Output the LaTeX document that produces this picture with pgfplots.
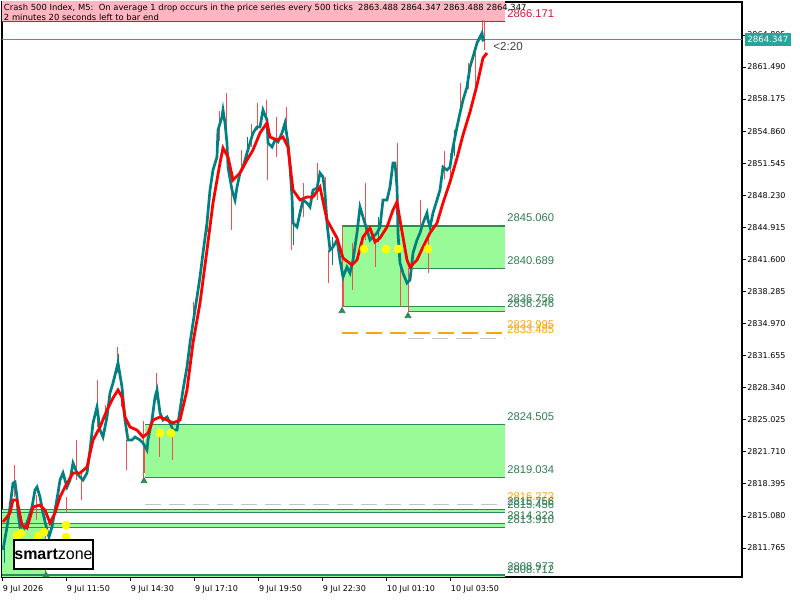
\documentclass[border=0pt]{standalone}
\usepackage{pgfplots}
\pgfplotsset{compat=1.18}
\usepackage{pgfplotstable}
\usepackage{fontspec}
\setmainfont{DejaVu Sans}
\newfontfamily\lib{Liberation Sans}
\definecolor{barteal}{RGB}{0,128,128}
\definecolor{wickred}{RGB}{240,80,80}
\definecolor{mared}{RGB}{255,0,0}
\definecolor{zonefill}{RGB}{152,251,152}
\definecolor{zoneline}{RGB}{46,139,87}
\definecolor{zonetext}{RGB}{46,125,80}
\definecolor{orng}{RGB}{255,165,0}
\definecolor{dotyel}{RGB}{255,255,0}
\definecolor{hdrpink}{RGB}{255,182,193}
\definecolor{crimsonc}{RGB}{220,20,60}
\definecolor{pricet}{RGB}{38,166,154}
\definecolor{graydash}{RGB}{195,195,195}
\newcommand\tf{\fontsize{4}{4.8}\selectfont}
\newcommand\zf{\lib\fontsize{5.6}{6}\selectfont}

\pgfplotstableread{
x p
0.5 2811.56
2.5 2813.94
4 2816.00
5.5 2818.48
6.5 2818.59
7.5 2817.04
8 2815.38
9 2813.94
10 2813.31
11.5 2813.94
13 2814.66
15 2816.00
16.5 2817.76
17.5 2818.07
19 2817.04
20.5 2815.38
22.5 2813.63
23.5 2812.90
25 2813.94
26.5 2815.69
28 2817.45
29 2818.79
30.5 2819.52
32.5 2818.07
34 2818.79
35.5 2820.55
37.5 2819.52
39 2819.10
40.5 2818.79
42.5 2819.52
44 2821.90
45.5 2824.69
47.5 2826.34
49 2823.96
50.5 2823.24
52.5 2825.31
54 2827.79
55.5 2828.82
57.5 2830.48
58 2830.89
60 2828.41
61.5 2825.00
63 2822.93
65 2822.93
66.5 2823.24
69 2822.93
70.5 2822.62
72.5 2821.90
73 2822.93
75 2825.00
76.5 2827.37
77.5 2828.10
79 2825.72
80.5 2825.00
82.5 2825.31
84 2824.69
85.5 2823.96
87.5 2823.96
89 2826.03
90.5 2828.10
92.5 2830.48
94 2832.96
95.5 2835.02
97.5 2837.71
99 2839.78
100.5 2842.26
102.5 2845.36
104 2848.77
105.5 2850.84
107.5 2852.19
108 2854.98
110 2856.32
110.5 2857.04
111.5 2855.70
112.5 2853.63
113 2851.15
115 2848.77
116.5 2847.74
117.5 2849.08
119 2850.53
120.5 2851.15
122.5 2852.60
124 2853.63
125.5 2854.67
127.5 2855.29
129 2855.29
130.5 2857.04
132.5 2856.01
133 2853.63
135 2853.22
136.5 2853.94
138 2853.74
140 2854.67
141.5 2855.70
143 2853.63
144 2851.15
145 2848.05
145.5 2845.36
147.5 2844.95
149 2846.40
150.5 2847.74
152.5 2847.43
154 2847.02
155.5 2848.77
157.5 2848.98
159 2850.53
160.5 2850.12
161.5 2848.46
162.5 2845.36
164 2842.57
165.5 2842.88
167.5 2843.61
169 2841.54
170.5 2839.78
172.5 2840.81
174 2840.19
175.5 2841.54
177.5 2844.33
179 2847.02
180.5 2845.98
182.5 2844.64
184 2843.61
185.5 2843.92
187.5 2844.33
189 2844.95
190.5 2847.74
192.5 2847.74
194 2849.08
195.5 2851.57
196.5 2851.57
197.5 2849.08
198 2844.33
199 2841.23
200.5 2840.19
202.5 2839.16
204 2839.47
205.5 2842.26
207.5 2843.61
209 2844.33
210.5 2845.36
212.5 2846.40
213 2845.67
214 2844.95
215.5 2846.40
217.5 2847.74
219 2848.77
220.5 2851.15
222.5 2850.84
224 2851.15
225.5 2853.22
227.5 2855.29
229 2856.73
230.5 2858.08
232.5 2859.42
234 2861.49
235.5 2862.52
237.5 2863.97
239 2864.59
240 2865.00
240.5 2864.28
241.5 2864.35
}\pricetab

\pgfplotstableread{
x m
0.5 2814.45
4 2815.38
5.5 2816.73
7.5 2816.73
10 2814.14
12.5 2813.83
15.5 2816.00
19 2816.21
21.5 2815.69
24 2814.35
26.5 2815.38
29 2817.04
31.5 2818.07
35.5 2819.52
39 2819.52
42.5 2820.14
45.5 2822.93
49 2824.27
52.5 2826.03
55.5 2827.27
58 2828.10
60 2827.37
61.5 2825.31
64 2824.27
67.5 2823.96
70.5 2823.24
73 2823.65
75.5 2825.00
79 2825.31
82.5 2825.00
85.5 2824.69
89 2825.00
92.5 2828.10
95.5 2832.96
99 2837.09
102.5 2842.57
105.5 2847.43
109 2851.57
110.5 2853.12
113 2852.19
115.5 2849.81
119 2850.53
122.5 2851.88
125.5 2852.91
129 2854.67
132.5 2855.70
134 2854.25
137.5 2853.94
140.5 2854.25
143 2853.22
145.5 2848.77
149 2847.74
152.5 2848.05
155.5 2848.05
159 2849.08
162.5 2845.67
167.5 2843.81
170.5 2841.74
175 2841.02
177.5 2841.54
180.5 2843.92
184 2844.85
186.5 2843.40
189 2843.81
192.5 2844.95
195.5 2846.71
197.5 2847.53
199 2845.67
202.5 2841.54
204 2840.81
207.5 2841.54
210.5 2842.88
214 2844.33
217.5 2845.36
220.5 2847.43
224 2849.60
227.5 2852.08
230.5 2854.46
234 2856.84
237.5 2859.63
240.5 2862.42
242.5 2862.94
}\matab

\begin{document}
\begin{tikzpicture}
\path[use as bounding box] (0,0) rectangle (400pt,300pt);
\begin{axis}[
  width=370pt, height=287.5pt, scale only axis,
  at={(1pt,11.5pt)}, anchor=south west,
  xmin=0, xmax=370, ymin=2808.77, ymax=2868.21,
  clip mode=individual,
  axis line style={black, line width=0.6pt},
  xtick={0,32,64,96,128,160,192,224},
  xticklabels={9 Jul 2026,9 Jul 11:50,9 Jul 14:30,9 Jul 17:10,9 Jul 19:50,9 Jul 22:30,10 Jul 01:10,10 Jul 03:50},
  ytick={2811.765,2815.080,2818.395,2821.710,2825.025,2828.340,2831.655,2834.970,2838.285,2841.600,2844.915,2848.230,2851.545,2854.860,2858.175,2861.490,2864.805},
  yticklabels={2811.765,2815.080,2818.395,2821.710,2825.025,2828.340,2831.655,2834.970,2838.285,2841.600,2844.915,2848.230,2851.545,2854.860,2858.175,2861.490,2864.805},
  xtick pos=lower, ytick pos=right, yticklabel pos=right,
  tick align=outside, major tick length=2pt,
  tick style={black, line width=0.4pt},
  xticklabel style={font=\tf, anchor=north west, inner sep=0pt, yshift=-1.8pt, xshift=0.3pt},
  yticklabel style={font=\tf, anchor=west, inner sep=0pt, xshift=0.5pt},
  /pgf/number format/assume math mode=true,
]
% header band
\addplot[fill=hdrpink, draw=none] coordinates {(0,2866.171) (251.5,2866.171) (251.5,2869) (0,2869)} -- cycle;
\addplot[crimsonc, line width=0.5pt] coordinates {(0,2866.171) (251.5,2866.171)};

% zone A
\addplot[fill=zonefill, draw=none] coordinates {(170,2840.689) (251.5,2840.689) (251.5,2845.060) (170,2845.060)} -- cycle;
\addplot[fill=zonefill, draw=none] coordinates {(170,2836.756) (203,2836.756) (203,2840.689) (170,2840.689)} -- cycle;
\addplot[fill=zonefill, draw=none] coordinates {(203,2836.246) (251.5,2836.246) (251.5,2836.756) (203,2836.756)} -- cycle;
\addplot[zoneline, line width=0.6pt] coordinates {(170,2845.060) (251.5,2845.060)};
\addplot[zoneline, line width=0.6pt] coordinates {(203,2840.689) (251.5,2840.689)};
\addplot[zoneline, line width=0.6pt] coordinates {(170,2836.756) (251.5,2836.756)};
\addplot[zoneline, line width=0.6pt] coordinates {(203,2836.246) (251.5,2836.246)};
\addplot[orng, line width=0.6pt, dash pattern=on 8pt off 4pt] coordinates {(170,2833.995) (251.5,2833.995)};
\addplot[graydash, line width=0.4pt, dash pattern=on 8pt off 4pt] coordinates {(203,2833.485) (251.5,2833.485)};

% zone B
\addplot[fill=zonefill, draw=none] coordinates {(71.5,2819.034) (251.5,2819.034) (251.5,2824.505) (71.5,2824.505)} -- cycle;
\addplot[zoneline, line width=0.6pt] coordinates {(71.5,2824.505) (251.5,2824.505)};
\addplot[zoneline, line width=0.6pt] coordinates {(71.5,2819.034) (251.5,2819.034)};
\addplot[graydash, line width=0.4pt, dash pattern=on 8pt off 4pt] coordinates {(71.5,2816.273) (251.5,2816.273)};

% zone C
\addplot[fill=zonefill, draw=none] coordinates {(0,2808.712) (22,2808.712) (22,2815.756) (0,2815.756)} -- cycle;
\addplot[fill=zonefill, draw=none] coordinates {(22,2815.456) (251.5,2815.456) (251.5,2815.756) (22,2815.756)} -- cycle;
\addplot[fill=zonefill, draw=none] coordinates {(22,2813.910) (251.5,2813.910) (251.5,2814.323) (22,2814.323)} -- cycle;
\addplot[fill=zonefill, draw=none] coordinates {(22,2808.712) (251.5,2808.712) (251.5,2808.977) (22,2808.977)} -- cycle;
\addplot[zoneline, line width=0.6pt] coordinates {(0,2815.756) (251.5,2815.756)};
\addplot[zoneline, line width=0.6pt] coordinates {(0,2815.456) (251.5,2815.456)};
\addplot[zoneline, line width=0.6pt] coordinates {(0,2814.323) (251.5,2814.323)};
\addplot[zoneline, line width=0.6pt] coordinates {(0,2813.910) (251.5,2813.910)};
\addplot[zoneline, line width=0.6pt] coordinates {(0,2808.977) (251.5,2808.977)};

% current price line
\addplot[pricet, line width=0.5pt] coordinates {(0,2864.347) (370,2864.347)};

% wicks
\addplot[wickred, line width=0.5pt, unbounded coords=jump] coordinates {
(6.5,2820.34) (6.5,2817.04) (6.5,nan)
(17.5,2817.24) (17.5,2814.66) (17.5,nan)
(22,2814.97) (22,2808.80) (22,nan)
(32.5,2817.04) (32.5,2815.38) (32.5,nan)
(37.5,2822.93) (37.5,2818.79) (37.5,nan)
(40,2819.52) (40,2816.73) (40,nan)
(48,2829.13) (48,2824.27) (48,nan)
(52,2826.60) (52,2823.90) (52,nan)
(58,2832.54) (58,2829.86) (58,nan)
(60,2828.82) (60,2826.34) (60,nan)
(62.5,2822.93) (62.5,2819.83) (62.5,nan)
(71,2824.90) (71,2819.00) (71,nan)
(71.5,2822.62) (71.5,2819.52) (71.5,nan)
(77.5,2829.86) (77.5,2827.06) (77.5,nan)
(79,2823.96) (79,2821.17) (79,nan)
(85.5,2823.65) (85.5,2820.86) (85.5,nan)
(96,2837.20) (96,2834.60) (96,nan)
(103,2846.80) (103,2844.40) (103,nan)
(109,2856.90) (109,2853.80) (109,nan)
(112.5,2858.80) (112.5,2855.29) (112.5,nan)
(115,2850.53) (115,2844.64) (115,nan)
(120,2852.91) (120,2850.53) (120,nan)
(125,2855.60) (125,2853.20) (125,nan)
(128,2857.77) (128,2854.98) (128,nan)
(132.5,2858.08) (132.5,2855.70) (132.5,nan)
(133,2853.94) (133,2849.81) (133,nan)
(137.5,2856.32) (137.5,2852.19) (137.5,nan)
(142.5,2857.35) (142.5,2854.25) (142.5,nan)
(145,2848.77) (145,2842.57) (145,nan)
(150.5,2849.50) (150.5,2845.98) (150.5,nan)
(157.5,2851.57) (157.5,2847.74) (157.5,nan)
(161.5,2850.12) (161.5,2846.71) (161.5,nan)
(163,2842.57) (163,2839.16) (163,nan)
(170,2845.06) (170,2836.76) (170,nan)
(170.5,2840.19) (170.5,2836.68) (170.5,nan)
(175,2843.30) (175,2838.44) (175,nan)
(181.5,2849.50) (181.5,2843.61) (181.5,nan)
(186.5,2843.61) (186.5,2840.81) (186.5,nan)
(197.5,2853.63) (197.5,2849.08) (197.5,nan)
(199,2841.54) (199,2836.68) (199,nan)
(203,2840.69) (203,2836.25) (203,nan)
(209,2847.74) (209,2844.33) (209,nan)
(213,2844.33) (213,2840.19) (213,nan)
(221,2852.80) (221,2849.90) (221,nan)
(224,2852.60) (224,2849.81) (224,nan)
(229,2859.84) (229,2857.04) (229,nan)
(233,2861.90) (233,2859.20) (233,nan)
(236.5,2862.94) (236.5,2859.11) (236.5,nan)
(240,2866.35) (240,2864.28) (240,nan)
(241,2866.17) (241,2863.25)
};
\addplot[barteal, line width=0.5pt, unbounded coords=jump] coordinates {
(1.5,2811.87) (1.5,2810.21) (1.5,nan)
(10,2812.59) (10,2809.80) (10,nan)
(58.5,2831.80) (58.5,2829.90) (58.5,nan)
(123,2854.30) (123,2851.90) (123,nan)
(146,2846.20) (146,2843.10) (146,nan)
(165,2843.90) (165,2841.00) (165,nan)
(188,2846.00) (188,2843.40) (188,nan)
(226,2855.00) (226,2852.30)
};

% price series
\addplot[barteal, line width=1.35pt] table[x=x,y=p] {\pricetab};
% moving average
\addplot[mared, line width=1.4pt] table[x=x,y=m] {\matab};

% signal dots
\addplot[only marks, mark=*, mark size=2pt, color=dotyel] coordinates {
(181,2842.68) (192,2842.68) (198,2842.68) (213,2842.68)
(79,2823.65) (84.5,2823.65)
(7.5,2813.11) (9.5,2813.31) (18,2813.00) (21,2813.42) (32,2814.14) (32,2812.90)};
% arrows
\addplot[only marks, mark=triangle*, mark size=1.7pt, color=zoneline] coordinates {
(71,2818.69) (170,2836.27) (203,2835.75) (22,2808.95)};

% zone labels
\node[anchor=base west, inner sep=0pt, text=zonetext, font=\zf] at (axis cs:252.5,2845.060) [yshift=2pt] {2845.060};
\node[anchor=base west, inner sep=0pt, text=zonetext, font=\zf] at (axis cs:252.5,2840.689) [yshift=2pt] {2840.689};
\node[anchor=base west, inner sep=0pt, text=zonetext, font=\zf] at (axis cs:252.5,2836.756) [yshift=2pt] {2836.756};
\node[anchor=base west, inner sep=0pt, text=zonetext, font=\zf] at (axis cs:252.5,2836.246) [yshift=2pt] {2836.246};
\node[anchor=base west, inner sep=0pt, text=orng, font=\zf] at (axis cs:252.5,2833.995) [yshift=2pt] {2833.995};
\node[anchor=base west, inner sep=0pt, text=orng, font=\zf] at (axis cs:252.5,2833.485) [yshift=2pt] {2833.485};
\node[anchor=base west, inner sep=0pt, text=zonetext, font=\zf] at (axis cs:252.5,2824.505) [yshift=2pt] {2824.505};
\node[anchor=base west, inner sep=0pt, text=zonetext, font=\zf] at (axis cs:252.5,2819.034) [yshift=2pt] {2819.034};
\node[anchor=base west, inner sep=0pt, text=orng, font=\zf] at (axis cs:252.5,2816.273) [yshift=2pt] {2816.273};
\node[anchor=base west, inner sep=0pt, text=zonetext, font=\zf] at (axis cs:252.5,2815.756) [yshift=2pt] {2815.756};
\node[anchor=base west, inner sep=0pt, text=zonetext, font=\zf] at (axis cs:252.5,2815.456) [yshift=2pt] {2815.456};
\node[anchor=base west, inner sep=0pt, text=zonetext, font=\zf] at (axis cs:252.5,2814.323) [yshift=2pt] {2814.323};
\node[anchor=base west, inner sep=0pt, text=zonetext, font=\zf] at (axis cs:252.5,2813.910) [yshift=2pt] {2813.910};
\node[anchor=base west, inner sep=0pt, text=zonetext, font=\zf] at (axis cs:252.5,2808.977) [yshift=2pt] {2808.977};
\node[anchor=base west, inner sep=0pt, text=zonetext, font=\zf] at (axis cs:252.5,2808.712) [yshift=2pt] {2808.712};
\node[anchor=base west, inner sep=0pt, text=crimsonc, font=\zf] at (axis cs:252.5,2866.171) [yshift=2pt] {2866.171};

% header text
\node[anchor=north west, inner sep=0pt, align=left, font=\fontsize{4.2}{5}\selectfont] at (rel axis cs:0,1) [xshift=0.8pt, yshift=-0.8pt]
 {Crash 500 Index, M5:\ \ On average 1 drop occurs in the price series every 500 ticks\ \ 2863.488 2864.347 2863.488 2864.347\\2 minutes 20 seconds left to bar end};

% countdown
\node[anchor=west, inner sep=0pt, text=black!75, font=\lib\fontsize{5.8}{6}\selectfont] at (axis cs:245.5,2863.56) {<2:20};

% current price label
\node[anchor=west, inner xsep=1.2pt, inner ysep=1.6pt, fill=pricet, text=white, font=\fontsize{4.3}{5}\selectfont] at (axis cs:370,2864.347) [xshift=1.3pt] {2864.347};

% logo
\node[draw=black, line width=0.6pt, fill=white, minimum width=39.5pt, minimum height=14.5pt, inner sep=0pt, font=\lib\fontsize{8}{8}\selectfont] at (axis cs:25.75,2811.09) {\textbf{smart}zone};
\end{axis}
\end{tikzpicture}
\end{document}
